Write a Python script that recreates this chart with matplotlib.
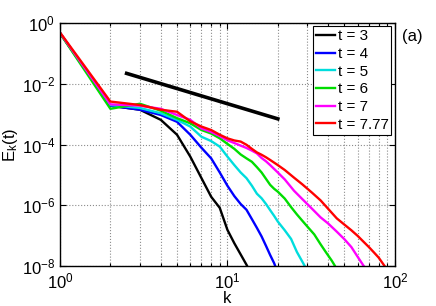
"""Energy spectra E_k(t) at several times, log-log, with a -5/3 reference line."""

import matplotlib

matplotlib.use("Agg")
import matplotlib.pyplot as plt
from matplotlib.ticker import FixedLocator, NullLocator, LogLocator

plt.rcParams["font.family"] = ["Liberation Sans", "DejaVu Sans"]
plt.rcParams["mathtext.fontset"] = "custom"
plt.rcParams["mathtext.rm"] = "Liberation Sans"
plt.rcParams["mathtext.it"] = "Liberation Sans:italic"

# spectra, one k list per curve
k_t3 = [1, 2, 3, 4, 5, 6, 7, 8, 9, 10, 11, 12, 13, 14]
E_t3 = [0.47, 1.9e-3, 1.4e-3, 6.5e-4, 2.1e-4, 4.0e-5, 7.8e-6, 1.9e-6, 8.2e-7,
        1.55e-7, 5.6e-8, 2.4e-8, 1.1e-8, 5e-9]

k_t4 = [1, 2, 3, 4, 5, 6, 7, 8, 9, 10, 11, 12, 13, 14, 15, 16, 17, 18, 19, 20]
E_t4 = [0.47, 1.9e-3, 1.4e-3, 9.4e-4, 5.6e-4, 2.1e-4, 7.8e-5, 3.5e-5, 1.2e-5,
        4.4e-6, 2.0e-6, 1.1e-6, 7.1e-7, 3.5e-7, 1.8e-7, 9.4e-8, 4.6e-8, 2.3e-8,
        1.25e-8, 6e-9]

k_t5 = [1, 2, 3, 4, 5, 6, 7, 8, 9, 10, 11, 12, 13, 14, 15, 16, 17, 18, 19, 20,
        22, 24, 26, 28, 30]
E_t5 = [0.47, 2.0e-3, 1.6e-3, 1.07e-3, 6.5e-4, 3.9e-4, 1.8e-4, 1.3e-4, 8.5e-5,
        4.0e-5, 2.1e-5, 1.2e-5, 7.8e-6, 4.4e-6, 2.4e-6, 1.7e-6, 1.1e-6, 6.9e-7,
        4.5e-7, 2.9e-7, 1.5e-7, 7.8e-8, 2.9e-8, 1.4e-8, 7e-9]

k_t6 = [1, 2, 3, 4, 5, 6, 7, 8, 9, 10, 11, 12, 13, 14, 15, 16, 17, 18, 19, 20,
        22, 24, 26, 28, 30, 33, 36, 39, 42, 45]
E_t6 = [0.46, 1.5e-3, 2.2e-3, 1.3e-3, 7.4e-4, 5.0e-4, 3.0e-4, 2.3e-4, 1.6e-4,
        1.05e-4, 7.2e-5, 4.7e-5, 3.5e-5, 2.7e-5, 1.8e-5, 1.2e-5, 7.4e-6, 4.7e-6,
        3.5e-6, 2.8e-6, 1.66e-6, 8.7e-7, 5.0e-7, 3.1e-7, 2.0e-7, 1.1e-7, 5.2e-8,
        2.7e-8, 1.5e-8, 8e-9]

k_t7 = [1, 2, 3, 4, 5, 6, 7, 8, 9, 10, 11, 12, 13, 14, 15, 16, 17, 18, 20, 22,
        25, 28, 32, 36, 40, 45, 50, 55, 60, 66]
E_t7 = [0.48, 2.1e-3, 1.9e-3, 1.5e-3, 9.4e-4, 6.5e-4, 3.4e-4, 2.6e-4, 1.9e-4,
        1.38e-4, 1.12e-4, 9.2e-5, 7.7e-5, 6.3e-5, 5.1e-5, 3.6e-5, 2.8e-5, 2.1e-5,
        1.2e-5, 7.1e-6, 3.0e-6, 1.6e-6, 7.7e-7, 4.0e-7, 2.5e-7, 1.35e-7, 7.6e-8,
        4.2e-8, 2.0e-8, 9e-9]

k_t777 = [1, 2, 3, 4, 5, 6, 7, 8, 9, 10, 11, 12, 13, 14, 15, 16, 17, 18, 20, 22,
          25, 28, 32, 36, 40, 45, 50, 55, 60, 65, 70, 75, 80, 88]
E_t777 = [0.49, 2.6e-3, 2.0e-3, 1.4e-3, 1.2e-3, 5.8e-4, 3.9e-4, 3.0e-4, 2.1e-4,
          1.6e-4, 1.36e-4, 1.25e-4, 9.8e-5, 7.2e-5, 5.5e-5, 4.6e-5, 3.8e-5,
          3.1e-5, 2.1e-5, 1.45e-5, 8.1e-6, 4.9e-6, 2.6e-6, 1.45e-6, 7.6e-7,
          3.7e-7, 2.3e-7, 1.5e-7, 9.8e-8, 6.3e-8, 4.2e-8, 2.8e-8, 1.9e-8, 9e-9]

# k^(-5/3) guide line end points
ref_k = [2.5, 20]
ref_E = [2.2e-2, 7.0e-4]

series = [
    ("t = 3", k_t3, E_t3, "k"),
    ("t = 4", k_t4, E_t4, "#0000ff"),
    ("t = 5", k_t5, E_t5, "#00dddd"),
    ("t = 6", k_t6, E_t6, "#00dd00"),
    ("t = 7", k_t7, E_t7, "#ff00ff"),
    ("t = 7.77", k_t777, E_t777, "#ff0000"),
]

fig = plt.figure(figsize=(4.36, 3.06), dpi=100)
ax = fig.add_axes([0.1376, 0.1307, 0.768, 0.794])

for label, k, E, color in series:
    ax.loglog(k, E, color=color, lw=1.7, label=label)
ax.loglog(ref_k, ref_E, color="k", lw=2.6)

ax.set_xlim(1, 100)
ax.set_ylim(1e-8, 1)
ax.yaxis.set_major_locator(FixedLocator([1e-8, 1e-6, 1e-4, 1e-2, 1]))
ax.yaxis.set_minor_locator(NullLocator())
ax.xaxis.set_minor_locator(LogLocator(base=10, subs=range(2, 10)))

ax.grid(which="major", ls=":", color="0.55", lw=0.8)
ax.grid(which="minor", axis="x", ls=":", color="0.55", lw=0.8)
ax.tick_params(which="both", direction="in", top=True, right=True,
               labelsize=12, width=0.8)
ax.tick_params(which="major", length=4)
ax.tick_params(which="minor", length=2)
ax.tick_params(axis="x", pad=4)
for s in ax.spines.values():
    s.set_linewidth(1.0)

ax.set_xlabel("k", fontsize=12, labelpad=0)
ax.set_ylabel(r"E$_\mathregular{k}$(t)", fontsize=12)
ax.yaxis.set_label_coords(-0.118, 0.5)

leg = ax.legend(loc="upper right", fontsize=11, fancybox=False,
                edgecolor="k", framealpha=1, handlelength=1.25,
                handletextpad=0.15, labelspacing=0.24, borderpad=0.2,
                borderaxespad=0.22)
leg.get_frame().set_linewidth(0.8)

fig.text(0.922, 0.88, "(a)", fontsize=12, ha="left", va="center")

fig.savefig("out.png", dpi=100)
